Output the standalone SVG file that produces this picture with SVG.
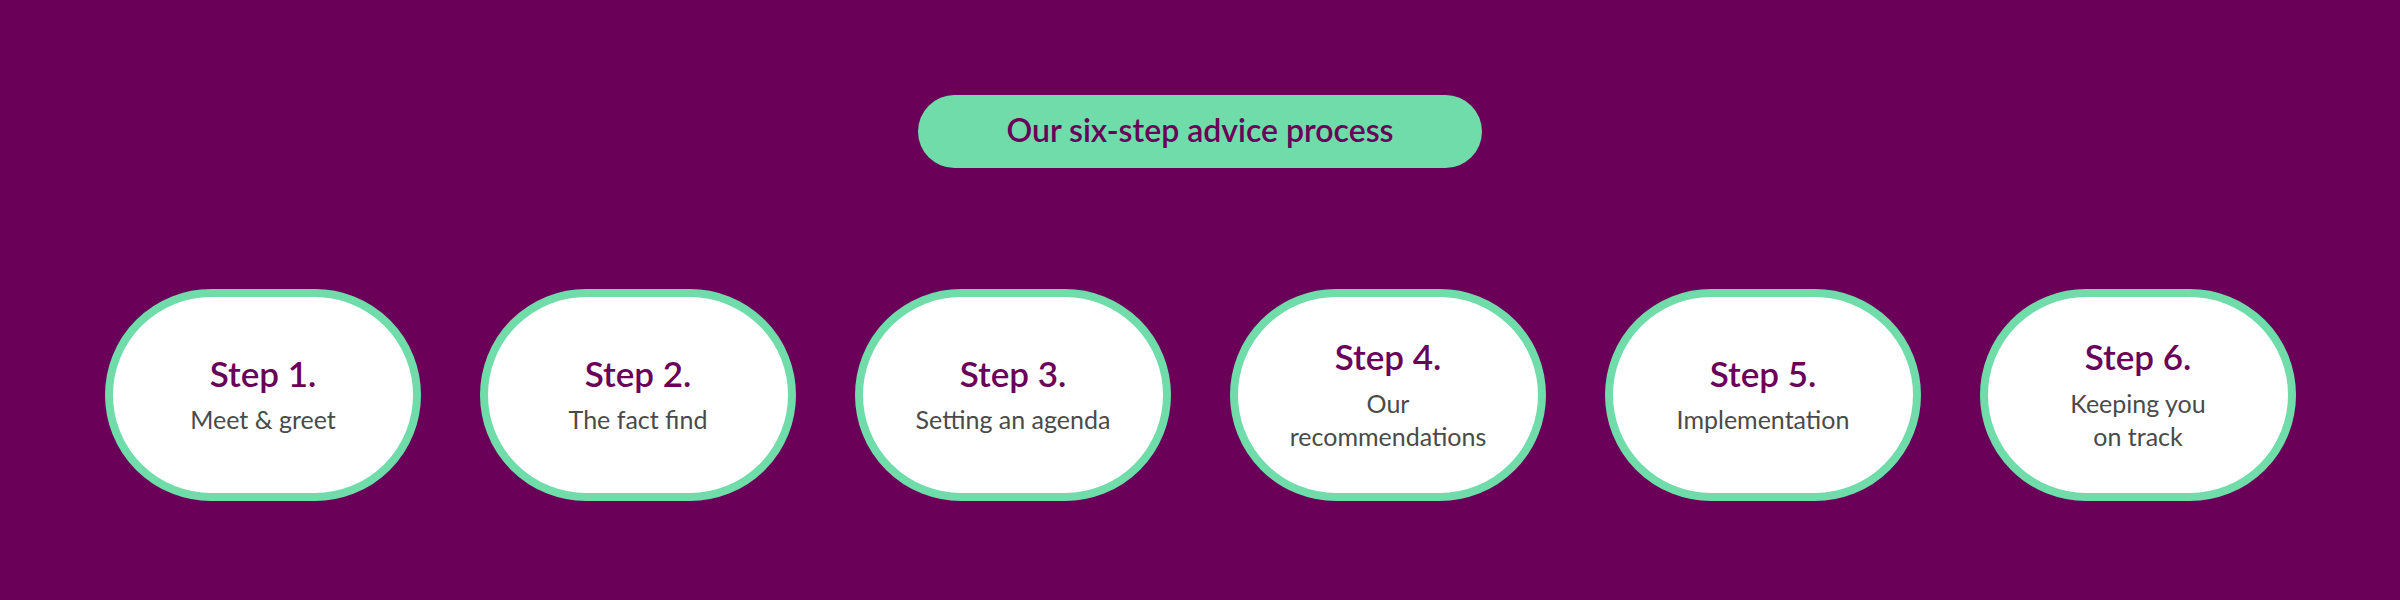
<svg xmlns="http://www.w3.org/2000/svg" width="2400" height="600" viewBox="0 0 2400 600">
<style>
.pill{fill:#fff;stroke:#6fdcaa;stroke-width:8}
.st{font-family:Lato,"Open Sans",sans-serif;font-size:35px;font-weight:600;fill:#6b0059;text-anchor:middle}
.ds{font-family:Lato,"Open Sans",sans-serif;font-size:25px;fill:#4a4a4a;text-anchor:middle}
</style>
<rect width="2400" height="600" fill="#6b0059"/>
<g id="title">
<rect x="918" y="95" width="564" height="73" rx="36.5" fill="#6fdcaa"/>
<text x="1200" y="142" font-family="Lato,'Open Sans',sans-serif" font-size="32" font-weight="600" fill="#6b0059" text-anchor="middle">Our six-step advice process</text>
</g>
<g id="connectors"/>
<g id="step1"><rect class="pill" x="109" y="293" width="308" height="204" rx="102"/><text class="st" x="263" y="387">Step 1.</text><text class="ds" x="263" y="429">Meet &amp; greet</text></g>
<g id="step2"><rect class="pill" x="484" y="293" width="308" height="204" rx="102"/><text class="st" x="638" y="387">Step 2.</text><text class="ds" x="638" y="429">The fact find</text></g>
<g id="step3"><rect class="pill" x="859" y="293" width="308" height="204" rx="102"/><text class="st" x="1013" y="387">Step 3.</text><text class="ds" x="1013" y="429">Setting an agenda</text></g>
<g id="step4"><rect class="pill" x="1234" y="293" width="308" height="204" rx="102"/><text class="st" x="1388" y="370">Step 4.</text><text class="ds" x="1388" y="413">Our</text><text class="ds" x="1388" y="446">recommendations</text></g>
<g id="step5"><rect class="pill" x="1609" y="293" width="308" height="204" rx="102"/><text class="st" x="1763" y="387">Step 5.</text><text class="ds" x="1763" y="429">Implementation</text></g>
<g id="step6"><rect class="pill" x="1984" y="293" width="308" height="204" rx="102"/><text class="st" x="2138" y="370">Step 6.</text><text class="ds" x="2138" y="413">Keeping you</text><text class="ds" x="2138" y="446">on track</text></g>
</svg>
